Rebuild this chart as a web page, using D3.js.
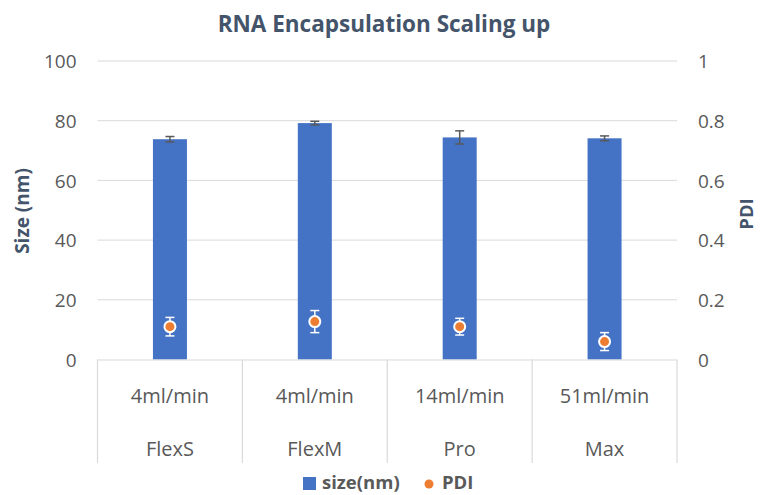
<!DOCTYPE html>
<html><head><meta charset="utf-8">
<script src="https://cdn.jsdelivr.net/npm/d3@7"></script>
<style>body{margin:0;background:#fff;} svg{display:block;font-family:"Open Sans",sans-serif;}</style>
</head><body>
<svg id="chart" width="760" height="495"></svg>
<script>
const categories = ["FlexS","FlexM","Pro","Max"];
const rates = ["4ml/min","4ml/min","14ml/min","51ml/min"];
const sizeValues = [73.8, 79.2, 74.4, 74.1];
const sizeErrors = [0.9, 0.6, 2.2, 0.8];
const pdiValues = [0.110, 0.127, 0.110, 0.060];
const pdiErrors = [0.031, 0.037, 0.028, 0.030];
const leftTicks = [0,20,40,60,80,100];
const rightTicks = [0,0.2,0.4,0.6,0.8,1];

const svg = d3.select("#chart");
const M = {left:97.5, right:677, top:61, bottom:359.5};
const x = d3.scaleBand().domain(categories).range([M.left, M.right]).padding(0);
const yL = d3.scaleLinear().domain([0,100]).range([M.bottom, M.top]);
const yR = d3.scaleLinear().domain([0,1]).range([M.bottom, M.top]);
const grid = "#d9d9d9", txt = "#595959", titleC = "#44546A";

// gridlines
svg.append("g").selectAll("line").data(leftTicks.slice(1)).join("line")
  .attr("x1", M.left).attr("x2", M.right)
  .attr("y1", d=>yL(d)).attr("y2", d=>yL(d))
  .attr("stroke", grid).attr("stroke-width", 1);

// left axis labels
const gl = svg.append("g").attr("transform",`translate(${M.left-21},0)`)
  .call(d3.axisLeft(yL).tickValues(leftTicks).tickSize(0).tickPadding(0));
gl.select(".domain").remove();
gl.selectAll("text").attr("font-size",19).attr("fill",txt).attr("font-family","Open Sans").attr("dy","0.35em");

// right axis labels
const gr = svg.append("g").attr("transform",`translate(${M.right+21},0)`)
  .call(d3.axisRight(yR).tickValues(rightTicks).tickSize(0).tickPadding(0).tickFormat(d3.format("~g")));
gr.select(".domain").remove();
gr.selectAll("text").attr("font-size",19).attr("fill",txt).attr("font-family","Open Sans").attr("dy","0.35em");

// bars
const barW = 34;
svg.append("g").selectAll("rect").data(categories).join("rect")
  .attr("x", (d)=>x(d)+x.bandwidth()/2-barW/2)
  .attr("width", barW)
  .attr("y", (d,i)=>yL(sizeValues[i]))
  .attr("height", (d,i)=>yL(0)-yL(sizeValues[i]))
  .attr("fill","#4472C4");

// size error bars
const eb = svg.append("g").attr("stroke","#595959").attr("stroke-width",1.5);
categories.forEach((c,i)=>{
  const cx = x(c)+x.bandwidth()/2;
  const y1 = yL(sizeValues[i]+sizeErrors[i]), y2 = yL(sizeValues[i]-sizeErrors[i]);
  eb.append("line").attr("x1",cx).attr("x2",cx).attr("y1",y1).attr("y2",y2);
  eb.append("line").attr("x1",cx-4.5).attr("x2",cx+4.5).attr("y1",y1).attr("y2",y1);
  eb.append("line").attr("x1",cx-4.5).attr("x2",cx+4.5).attr("y1",y2).attr("y2",y2);
});

// category axis
const ca = svg.append("g").attr("stroke",grid).attr("stroke-width",1.2);
ca.append("line").attr("x1",M.left).attr("x2",M.right).attr("y1",M.bottom+0.5).attr("y2",M.bottom+0.5);
const bounds = categories.map(c=>x(c)).concat([M.right]);
bounds.forEach(b=>{
  ca.append("line").attr("x1",b).attr("x2",b).attr("y1",M.bottom).attr("y2",463);
});
svg.append("g").selectAll("text").data(rates).join("text")
  .attr("x",(d,i)=>x(categories[i])+x.bandwidth()/2).attr("y",396).attr("dy","0.35em")
  .attr("text-anchor","middle").attr("font-size",20).attr("fill",txt).text(d=>d);
svg.append("g").selectAll("text").data(categories).join("text")
  .attr("x",d=>x(d)+x.bandwidth()/2).attr("y",449).attr("dy","0.35em")
  .attr("text-anchor","middle").attr("font-size",20).attr("fill",txt).text(d=>d);

// PDI error bars (white) and points
const pe = svg.append("g").attr("stroke","#ffffff").attr("stroke-width",1.5);
categories.forEach((c,i)=>{
  const cx = x(c)+x.bandwidth()/2;
  const y1 = yR(pdiValues[i]+pdiErrors[i]), y2 = yR(pdiValues[i]-pdiErrors[i]);
  pe.append("line").attr("x1",cx).attr("x2",cx).attr("y1",y1).attr("y2",y2);
  pe.append("line").attr("x1",cx-4.5).attr("x2",cx+4.5).attr("y1",y1).attr("y2",y1);
  pe.append("line").attr("x1",cx-4.5).attr("x2",cx+4.5).attr("y1",y2).attr("y2",y2);
});
svg.append("g").selectAll("circle").data(categories).join("circle")
  .attr("cx",d=>x(d)+x.bandwidth()/2).attr("cy",(d,i)=>yR(pdiValues[i]))
  .attr("r",5.5).attr("fill","#ED7D31").attr("stroke","#ffffff").attr("stroke-width",2);

// titles
svg.append("text").attr("x",384).attr("y",32).attr("text-anchor","middle")
  .attr("font-size",22.5).attr("font-weight","bold").attr("fill",titleC).text("RNA Encapsulation Scaling up");
svg.append("text").attr("transform","translate(22,211) rotate(-90)").attr("text-anchor","middle")
  .attr("dy","0.35em").attr("font-size",19).attr("font-weight","bold").attr("fill",titleC).text("Size (nm)");
svg.append("text").attr("transform","translate(747,214) rotate(-90)").attr("text-anchor","middle")
  .attr("dy","0.35em").attr("font-size",18.5).attr("font-weight","bold").attr("fill",titleC).text("PDI");

// legend
const lg = svg.append("g");
lg.append("rect").attr("x",303).attr("y",477).attr("width",13).attr("height",13).attr("fill","#4472C4");
lg.append("text").attr("x",322).attr("y",483).attr("dy","0.35em").attr("font-size",18.5).attr("font-weight","bold").attr("fill",txt).text("size(nm)");
lg.append("circle").attr("cx",429).attr("cy",484).attr("r",4.5).attr("fill","#ED7D31");
lg.append("text").attr("x",442).attr("y",483).attr("dy","0.35em").attr("font-size",18.5).attr("font-weight","bold").attr("fill",txt).text("PDI");
</script>
</body></html>
